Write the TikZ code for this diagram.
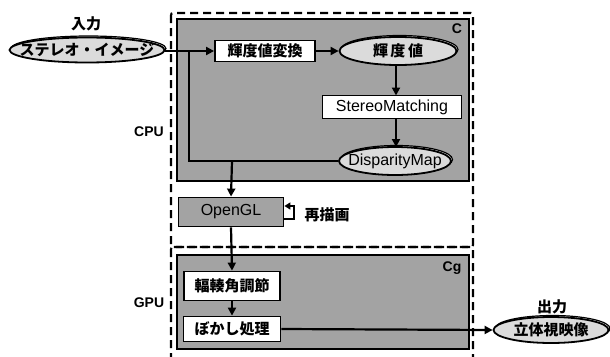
\documentclass[tikz,border=0pt]{standalone}
\usepackage{fontspec}
\setmainfont{Liberation Sans}
\newfontfamily\jp{Noto Sans CJK JP}
\usetikzlibrary{shapes.geometric,arrows.meta,shadows}
\definecolor{shade}{gray}{0.64}
\definecolor{lshade}{gray}{0.86}
\tikzset{
  lw/.style={line width=2.2pt},
  arr/.style={lw,-{Triangle[length=8pt,width=8pt]}},
  dbox/.style={draw,line width=2.2pt,dash pattern=on 8pt off 5pt,rounded corners=2pt},
  gbox/.style={draw,line width=1.8pt,fill=shade},
  wbox/.style={draw,line width=1.8pt,fill=white,inner sep=0pt},
  oval/.style={ellipse,draw,line width=1.8pt,fill=lshade,inner xsep=-40pt,inner ysep=-10pt,
    general shadow={shadow xshift=1.5pt,shadow yshift=1.5pt,fill=white,draw=black,line width=1.2pt}},
  jt/.style={font=\jp\bfseries\fontsize{15}{15}\selectfont},
  lt/.style={font=\fontsize{16}{16}\selectfont},
  bt/.style={font=\bfseries\fontsize{14}{14}\selectfont},
}
\begin{document}
\begin{tikzpicture}[x=1pt,y=-1pt]
\useasboundingbox (0,0) rectangle (610,356);
% dashed regions
\draw[dbox] (171,13) rectangle (473,247);
\draw[dbox] (171,247) rectangle (473,370);
% shaded regions
\draw[gbox] (177,19) rectangle (469,181);
\draw[gbox] (177,255) rectangle (469,349);
\node[bt] (clab) at (457,29) {C};
\node[bt] (cglab) at (452,268) {Cg};
\node[bt] (cpu) at (149,132) {CPU};
\node[bt] (gpu) at (149,303) {GPU};
% nodes
\node[jt] (inlab) at (86,24) {入力};
\node[oval,jt,minimum width=155pt,minimum height=25pt] (in) at (87,50) {ステレオ・イメージ};
\node[wbox,jt,minimum width=100pt,minimum height=21pt] (conv) at (265,51) {輝度値変換};
\node[oval,jt,minimum width=117pt,minimum height=28pt] (ld) at (398,51) {輝\,度\,値};
\node[wbox,lt,minimum width=139pt,minimum height=23pt] (sm) at (392,107) {StereoMatching};
\node[oval,lt,minimum width=112pt,minimum height=28pt] (dm) at (395,161) {DisparityMap};
\node[gbox,lt,inner sep=0pt,minimum width=105pt,minimum height=29pt] (gl) at (231,212) {OpenGL};
\node[jt] (redraw) at (327,215) {再描画};
\node[wbox,jt,minimum width=96pt,minimum height=29pt] (adj) at (232,286) {輻輳角調節};
\node[wbox,jt,minimum width=97pt,minimum height=25pt] (blur) at (232,329) {ぼかし処理};
\node[jt] (outlab) at (552,307) {出力};
\node[oval,jt,minimum width=115pt,minimum height=26pt] (out) at (551,330) {立体視映像};
% connectors
\coordinate (br) at (189,51);
\coordinate (j) at (232,161);
\draw[arr] (in.east |- conv.west) -- (conv.west);
\draw[arr] (conv.east) -- (ld.west);
\draw[arr] (396,65) -- (396,95.5);
\draw[arr] (396,118.5) -- (396,147);
\draw[lw] (dm.west) -| (br);
\draw[arr] (j) -- (gl.north);
\draw[arr] (gl.south) -- (adj.north);
\draw[arr] (adj.south) -- (blur.north);
\draw[arr] (blur.east) -- (out.west);
\coordinate (r1) at (294,219);
\coordinate (r2) at (294,206);
\draw[lw,-{Triangle[length=6pt,width=7pt]}] (gl.east |- r1) -- (r1) -- (r2) -- (gl.east |- r2);
\end{tikzpicture}
\end{document}
